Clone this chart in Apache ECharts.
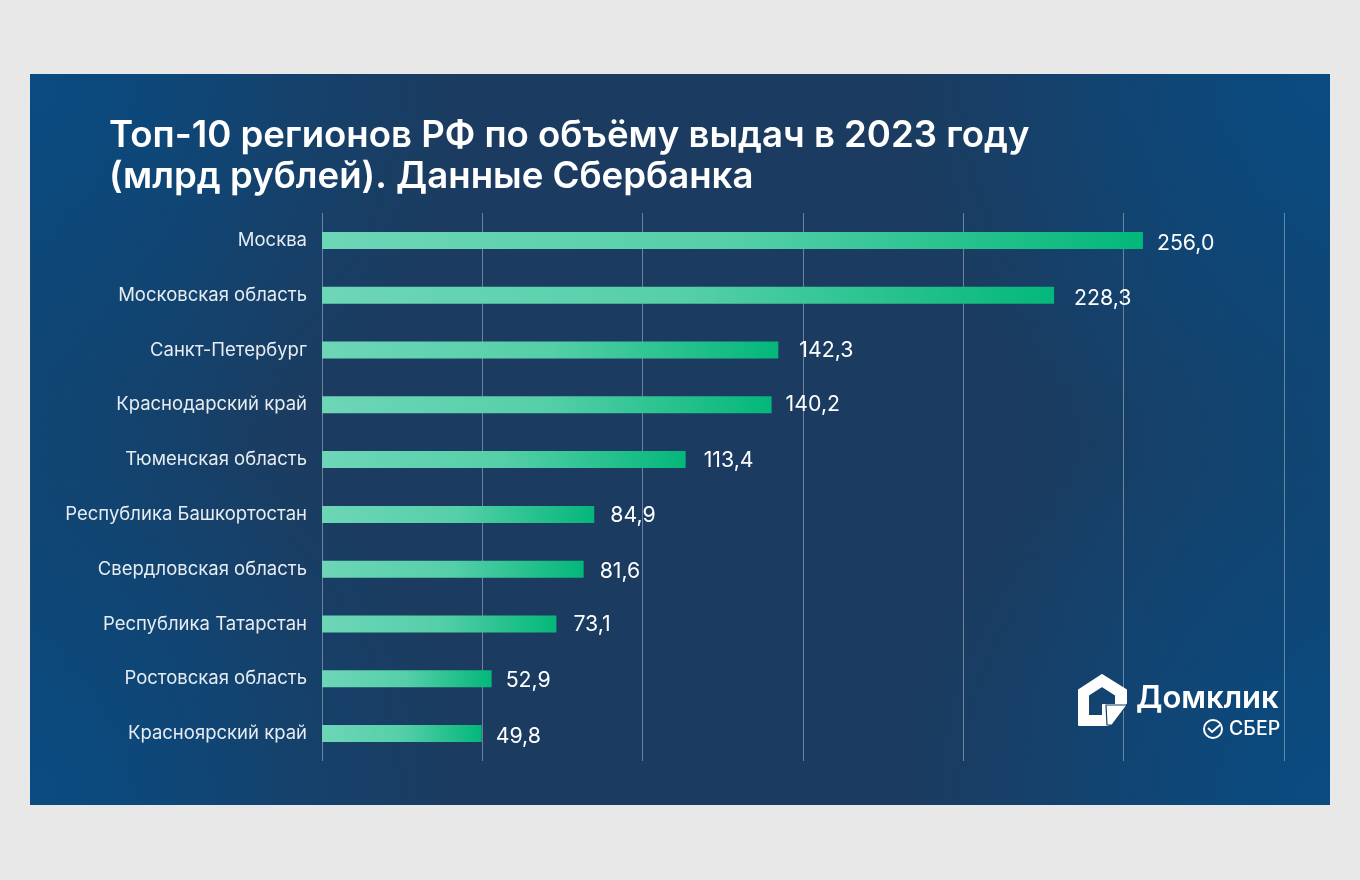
<!DOCTYPE html>
<html><head><meta charset="utf-8">
<style>html,body{margin:0;padding:0;background:#e8e8e8}#c{width:1360px;height:880px}</style>
<script src="https://cdn.jsdelivr.net/npm/echarts@6/dist/echarts.min.js"></script>
</head><body><div id="c"></div>
<script>
const titleText = 'Топ-10 регионов РФ по объёму выдач в 2023 году\n(млрд рублей). Данные Сбербанка';
const regions = ['Москва','Московская область','Санкт-Петербург','Краснодарский край','Тюменская область','Республика Башкортостан','Свердловская область','Республика Татарстан','Ростовская область','Красноярский край'];
const volumes = [256.0,228.3,142.3,140.2,113.4,84.9,81.6,73.1,52.9,49.8];
const labelGaps = [14,20,21,14,18,16,16,17,14,14];
const labelShiftY = [3,3,1,0,1,1,2,1,2,3];
const FONT = 'Inter, "Noto Sans", sans-serif';
const LG = echarts.graphic.LinearGradient;
const RG = echarts.graphic.RadialGradient;
const card = {x:30,y:74,width:1300,height:731};
const corner = (cx,cy)=>({type:'rect',z:-9,silent:true,shape:card,
  style:{fill:new RG(cx,cy,430,[{offset:0,color:'rgba(8,76,132,0.85)'},{offset:1,color:'rgba(8,76,132,0)'}],true)}});
const chart = echarts.init(document.getElementById('c'), null, {renderer:'canvas'});
chart.setOption({
  backgroundColor:'#e8e8e8',
  animation:false,
  title:{text:titleText,left:104,top:110,textStyle:{color:'#fff',fontFamily:FONT,fontWeight:600,fontSize:36.6,lineHeight:41}},
  grid:{left:322,right:76,top:213,bottom:119,containLabel:false},
  xAxis:{type:'value',min:0,max:300,interval:50,axisLabel:{show:false},axisLine:{show:false},axisTick:{show:false},
    splitLine:{show:true,lineStyle:{color:'rgba(255,255,255,0.36)',width:1}}},
  yAxis:{type:'category',inverse:true,data:regions,axisLine:{show:false},axisTick:{show:false},
    axisLabel:{color:'#e6ecf1',fontFamily:FONT,fontSize:18.5,margin:15,padding:[2,0,0,0]}},
  series:[{type:'bar',barWidth:17,z:3,
    data:volumes.map((v,i)=>({value:v,label:{distance:labelGaps[i],offset:[0,labelShiftY[i]]}})),
    itemStyle:{color:new LG(0,0,1,0,[{offset:0,color:'#6dd6b7'},{offset:0.5,color:'#55cfa8'},{offset:1,color:'#04b77a'}])},
    label:{show:true,position:'right',color:'#fff',fontFamily:FONT,fontSize:21.3,
      formatter:p=>p.value.toFixed(1).replace('.',',')}
  }],
  graphic:[
    {type:'rect',z:-10,silent:true,shape:card,
     style:{fill:new LG(0,0,1,0,[{offset:0,color:'#12446f'},{offset:0.2,color:'#1b3c60'},{offset:0.76,color:'#1b3c60'},{offset:1,color:'#12446f'}])}},
    corner(30,74),corner(1330,74),corner(30,805),corner(1330,805),
    {type:'polygon',z:10,silent:true,
     shape:{points:[[1102,675],[1126,690],[1126,703],[1108,725],[1079,725],[1079,690],[1102,675],[1102,686],[1088,695],[1088,716],[1103,716],[1103,705],[1116,705],[1116,695],[1102,686]]},
     style:{fill:'#fff',stroke:'#fff',lineWidth:2,lineJoin:'round'}},
    {type:'polygon',z:11,silent:true,
     shape:{points:[[1106,705],[1127,705],[1112,725],[1107,725]]},
     style:{fill:'#fff',stroke:'#173f68',lineWidth:1.2}},
    {type:'text',z:10,silent:true,left:1136,top:683,style:{text:'Домклик',fill:'#fff',fontFamily:FONT,fontWeight:600,fontSize:31}},
    {type:'circle',z:10,silent:true,shape:{cx:1213,cy:729,r:9},style:{fill:'none',stroke:'#fff',lineWidth:2}},
    {type:'polyline',z:10,silent:true,shape:{points:[[1208,728],[1212,732],[1220,725]]},style:{fill:'none',stroke:'#fff',lineWidth:2}},
    {type:'text',z:10,silent:true,left:1229,top:719,style:{text:'СБЕР',fill:'#fff',fontFamily:FONT,fontWeight:500,fontSize:19.5}}
  ]
});
</script></body></html>
